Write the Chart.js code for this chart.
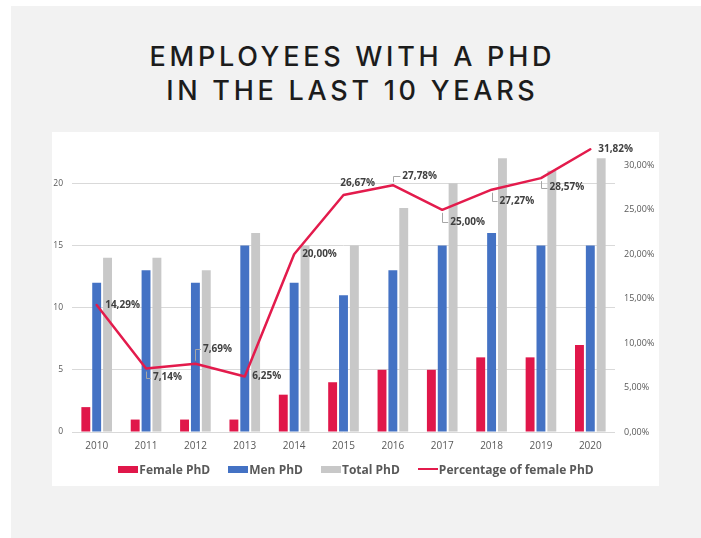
<!DOCTYPE html>
<html>
<head>
<meta charset="utf-8">
<script src="https://cdn.jsdelivr.net/npm/chart.js@4.4.1/dist/chart.umd.min.js"></script>
<style>
html,body{margin:0;padding:0;width:701px;height:538px;background:#ffffff;overflow:hidden;}
#panel{position:absolute;left:11px;top:6px;width:690px;height:532px;background:#f2f2f2;}
#title{position:absolute;left:0;top:40px;width:701px;text-align:center;font-family:"Inter";font-weight:500;font-size:27px;line-height:34px;color:#1c1c1c;}
#title span{display:inline-block;white-space:nowrap;}
#box{position:absolute;left:52px;top:132px;width:607px;height:354px;background:#ffffff;}
#wrap{position:absolute;left:40px;top:100px;width:640px;height:390px;}
#legend{position:absolute;left:0;width:712px;top:461px;height:16px;display:flex;justify-content:center;align-items:center;gap:18px;font-family:"Open Sans";font-weight:700;font-size:12px;color:#595959;}
#legend .it{display:flex;align-items:center;gap:1px;white-space:nowrap;}
#legend i{display:inline-block;width:20px;}
</style>
</head>
<body>
<div id="panel"></div>
<div id="title"><span id="t1">EMPLOYEES WITH A PHD</span><br><span id="t2">IN THE LAST 10 YEARS</span></div>
<div id="box"></div>
<div id="wrap"><canvas id="c" width="640" height="390"></canvas></div>
<div id="legend"></div>
<script>
// ---- data ----
const years = ['2010','2011','2012','2013','2014','2015','2016','2017','2018','2019','2020'];
const femalePhD = [2, 1, 1, 1, 3, 4, 5, 5, 6, 6, 7];
const menPhD = [12, 13, 12, 15, 12, 11, 13, 15, 16, 15, 15];
const totalPhD = [14, 14, 13, 16, 15, 15, 18, 20, 22, 21, 22];
const femalePct = [14.29, 7.14, 7.69, 6.25, 20.00, 26.67, 27.78, 25.00, 27.27, 28.57, 31.82];
const seriesNames = ['Female PhD', 'Men PhD', 'Total PhD', 'Percentage of female PhD'];

// ---- label placement (offsets from the point computed by the library) ----
const labelDx = [8.5, 7, 7.5, 7.5, 8, -3.3, 9.5, 8, 8, 8.5, 8];
const labelDy = [0, 9, -14.5, 0, 0, -11.6, -9, 12.5, 11, 9.5, 0];
const leader  = [false, true, true, false, false, false, true, true, true, true, false];

const colors = ['#e0174a', '#4472c4', '#c8c8c8', '#e31b4c'];

// ---- title letter spacing fit ----
(function(){
  const t1 = document.getElementById('t1'), t2 = document.getElementById('t2');
  const w0 = t1.getBoundingClientRect().width;
  const n = t1.textContent.length;
  const sp = (402 - w0) / (n - 1);
  [t1, t2].forEach(s => { s.style.letterSpacing = sp + 'px'; s.style.marginRight = (-sp) + 'px'; });
})();

// ---- legend ----
const legend = document.getElementById('legend');
seriesNames.forEach((name, i) => {
  const it = document.createElement('span');
  it.className = 'it';
  const sw = document.createElement('i');
  sw.style.background = colors[i];
  sw.style.height = (i === 3 ? 2.5 : 7) + 'px';
  it.appendChild(sw);
  it.appendChild(document.createTextNode(name));
  legend.appendChild(it);
});

const fmtPct = v => v.toFixed(2).replace('.', ',') + '%';

const labelPlugin = {
  id: 'pctLabels',
  afterDatasetsDraw(chart) {
    const meta = chart.getDatasetMeta(3);
    const ctx = chart.ctx;
    ctx.save();
    ctx.font = 'bold 10px "Open Sans"';
    ctx.fillStyle = '#404040';
    ctx.textBaseline = 'middle';
    ctx.textAlign = 'left';
    meta.data.forEach((pt, i) => {
      const lx = pt.x + labelDx[i];
      const ly = pt.y + labelDy[i];
      if (leader[i]) {
        const dir = Math.sign(labelDy[i]);
        ctx.strokeStyle = '#a6a6a6';
        ctx.lineWidth = 1;
        ctx.beginPath();
        const x0 = Math.round(pt.x) + 0.5;
        ctx.moveTo(x0, pt.y + dir * 3);
        ctx.lineTo(x0, Math.round(ly) + 0.5);
        ctx.lineTo(lx - 2, Math.round(ly) + 0.5);
        ctx.stroke();
      }
      ctx.fillText(fmtPct(femalePct[i]), lx, ly);
    });
    ctx.restore();
  }
};

const tickFont = { family: 'Open Sans', size: 8.5 };

new Chart(document.getElementById('c'), {
  data: {
    labels: years,
    datasets: [
      { type: 'bar', label: seriesNames[0], data: femalePhD, backgroundColor: colors[0], yAxisID: 'y', order: 1,
        categoryPercentage: 0.66, barPercentage: 0.82 },
      { type: 'bar', label: seriesNames[1], data: menPhD, backgroundColor: colors[1], yAxisID: 'y', order: 1,
        categoryPercentage: 0.66, barPercentage: 0.82 },
      { type: 'bar', label: seriesNames[2], data: totalPhD, backgroundColor: colors[2], yAxisID: 'y', order: 1,
        categoryPercentage: 0.66, barPercentage: 0.82 },
      { type: 'line', label: seriesNames[3], data: femalePct, borderColor: colors[3], backgroundColor: colors[3],
        borderWidth: 2.5, pointRadius: 0, tension: 0, yAxisID: 'y1', order: 0, clip: false,
        borderJoinStyle: 'round', borderCapStyle: 'round' }
    ]
  },
  options: {
    responsive: false,
    animation: false,
    devicePixelRatio: 1,
    layout: { padding: { top: 21, left: 0, right: 0, bottom: 0 } },
    plugins: { legend: { display: false }, tooltip: { enabled: false }, title: { display: false } },
    scales: {
      x: {
        grid: { display: false, drawTicks: false },
        border: { display: false },
        ticks: { font: { family: 'Open Sans', size: 10 }, color: '#595959', padding: 8, maxRotation: 0 },
        afterFit: s => { s.height = 58; }
      },
      y: {
        position: 'left', min: 0, max: 25,
        grid: { color: '#d9d9d9', lineWidth: 1, drawTicks: false },
        border: { display: false },
        ticks: { stepSize: 5, font: tickFont, color: '#595959', padding: 9 },
        afterBuildTicks: s => { s.ticks = s.ticks.filter(t => t.value <= 20); },
        afterFit: s => { s.width = 32; }
      },
      y1: {
        position: 'right', min: 0, max: 35,
        grid: { display: false, drawTicks: false },
        border: { display: false },
        ticks: { stepSize: 5, font: { family: 'Open Sans', size: 9 }, color: '#595959', padding: 9,
                 callback: v => fmtPct(v) },
        afterBuildTicks: s => { s.ticks = s.ticks.filter(t => t.value <= 30); },
        afterFit: s => { s.width = 65; }
      }
    }
  },
  plugins: [labelPlugin]
});
</script>
</body>
</html>
